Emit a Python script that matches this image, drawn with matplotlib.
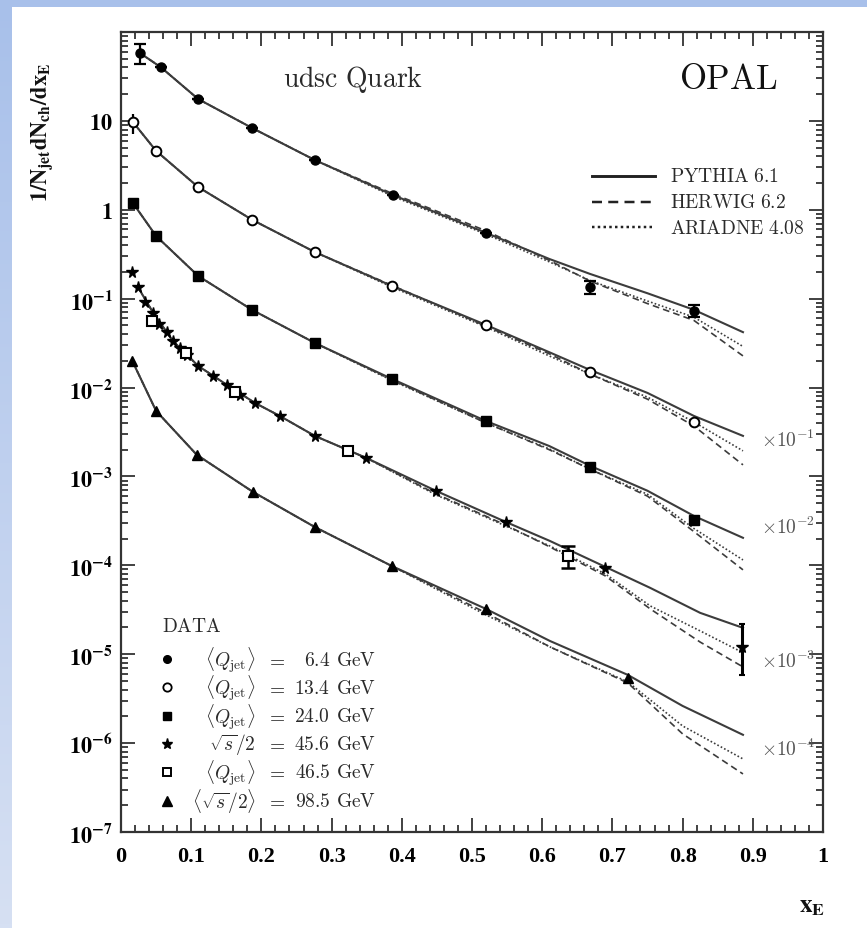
import numpy as np
import matplotlib
matplotlib.use("Agg")
import matplotlib.pyplot as plt
from matplotlib.ticker import MultipleLocator, LogLocator, NullFormatter, FixedLocator, FixedFormatter

# ---------------- data (values as drawn, offset factors already applied) ----------------
# <Q_jet> = 6.4 GeV  (x 1)
q64_x = [0.027, 0.057, 0.11, 0.187, 0.276, 0.387, 0.52, 0.668, 0.816]
q64_y = [58, 40, 17.6, 8.3, 3.63, 1.47, 0.55, 0.135, 0.073]
q64_lo = [43.7, 40, 17.6, 8.3, 3.63, 1.47, 0.55, 0.113, 0.062]
q64_hi = [73, 40, 17.6, 8.3, 3.63, 1.47, 0.55, 0.158, 0.085]

# <Q_jet> = 13.4 GeV  (x 1e-1)
q134_x = [0.017, 0.05, 0.11, 0.187, 0.276, 0.386, 0.52, 0.668, 0.816]
q134_y = [9.7, 4.6, 1.8, 0.77, 0.335, 0.139, 0.0506, 0.015, 0.0041]
q134_lo = [7.1, 4.6, 1.8, 0.77, 0.335, 0.139, 0.0506, 0.015, 0.0041]
q134_hi = [12.0, 4.6, 1.8, 0.77, 0.335, 0.139, 0.0506, 0.015, 0.0041]

# <Q_jet> = 24.0 GeV  (x 1e-2)
q240_x = [0.017, 0.05, 0.11, 0.187, 0.276, 0.386, 0.52, 0.668, 0.816]
q240_y = [1.19, 0.507, 0.18, 0.0746, 0.0318, 0.0125, 0.0042, 0.00128, 0.000324]

# sqrt(s)/2 = 45.6 GeV  (x 1e-3)
s456_x = [0.0157, 0.024, 0.034, 0.046, 0.054, 0.066, 0.074, 0.084, 0.094, 0.11, 0.131,
          0.151, 0.17, 0.191, 0.226, 0.276, 0.349, 0.449, 0.548, 0.69, 0.885]
s456_y = [0.2, 0.1355, 0.0918, 0.069, 0.052, 0.042, 0.0334, 0.0279, 0.0232, 0.0175, 0.0135,
          0.0107, 0.00826, 0.0067, 0.0048, 0.00286, 0.00162, 6.9e-4, 3.1e-4, 9.3e-5, 1.2e-5]
s456_last_lo, s456_last_hi = 5.9e-6, 2.2e-5

# <Q_jet> = 46.5 GeV  (x 1e-3)
q465_x = [0.044, 0.093, 0.162, 0.323, 0.637]
q465_y = [0.056, 0.0245, 0.0089, 0.00194, 1.28e-4]
q465_last_lo, q465_last_hi = 9.3e-5, 1.66e-4

# <sqrt(s)/2> = 98.5 GeV  (x 1e-4)
s985_x = [0.016, 0.05, 0.108, 0.188, 0.276, 0.386, 0.52, 0.722]
s985_y = [0.02, 0.00546, 0.00175, 6.7e-4, 2.7e-4, 9.8e-5, 3.2e-5, 5.4e-6]

# ---------------- Monte Carlo curves: shared low-x part + generator tails ----------------
mc = {
    "q64": dict(x=[0.027, 0.057, 0.11, 0.187, 0.276], y=[58, 40, 17.6, 8.3, 3.63],
                tx=[0.387, 0.52, 0.61, 0.668, 0.75, 0.816, 0.886],
                pythia=[1.47, 0.55, 0.28, 0.19, 0.115, 0.075, 0.042],
                herwig=[1.52, 0.58, 0.27, 0.158, 0.088, 0.057, 0.0227],
                ariadne=[1.42, 0.53, 0.26, 0.16, 0.094, 0.062, 0.029]),
    "q134": dict(x=[0.017, 0.05, 0.11, 0.187, 0.276], y=[9.7, 4.6, 1.8, 0.77, 0.335],
                 tx=[0.386, 0.52, 0.61, 0.668, 0.75, 0.816, 0.886],
                 pythia=[0.139, 0.0506, 0.025, 0.0158, 0.0087, 0.0048, 0.00286],
                 herwig=[0.141, 0.049, 0.024, 0.0142, 0.0074, 0.0037, 0.00135],
                 ariadne=[0.135, 0.048, 0.0227, 0.0142, 0.0078, 0.0041, 0.00194]),
    "q240": dict(x=[0.017, 0.05, 0.11, 0.187, 0.276], y=[1.19, 0.507, 0.18, 0.0746, 0.0318],
                 tx=[0.386, 0.52, 0.61, 0.668, 0.75, 0.816, 0.886],
                 pythia=[0.0125, 0.0042, 0.0022, 0.00132, 0.00069, 0.00036, 0.000204],
                 herwig=[0.0122, 0.0040, 0.0020, 0.00121, 0.00060, 0.00024, 0.000089],
                 ariadne=[0.0120, 0.0040, 0.00204, 0.00121, 0.00063, 0.00026, 0.000115]),
    "s456": dict(x=[0.024, 0.046, 0.074, 0.11, 0.151, 0.191, 0.226, 0.276, 0.349],
                 y=[0.1355, 0.069, 0.0334, 0.0175, 0.0107, 0.0067, 0.0048, 0.00286, 0.00162],
                 tx=[0.449, 0.548, 0.611, 0.69, 0.754, 0.825, 0.886],
                 pythia=[6.87e-4, 3.08e-4, 1.88e-4, 9.6e-5, 5.57e-5, 2.92e-5, 1.98e-5],
                 herwig=[6.35e-4, 2.84e-4, 1.61e-4, 7.6e-5, 3.23e-5, 1.37e-5, 7.2e-6],
                 ariadne=[6.19e-4, 2.77e-4, 1.65e-4, 8.0e-5, 3.49e-5, 1.83e-5, 1.04e-5]),
    "s985": dict(x=[0.016, 0.05, 0.108, 0.188, 0.276, 0.386],
                 y=[0.02, 0.00546, 0.00175, 6.7e-4, 2.7e-4, 9.8e-5],
                 tx=[0.52, 0.611, 0.722, 0.8, 0.886],
                 pythia=[3.23e-5, 1.41e-5, 5.85e-6, 2.62e-6, 1.24e-6],
                 herwig=[2.92e-5, 1.21e-5, 4.75e-6, 1.27e-6, 4.5e-7],
                 ariadne=[2.77e-5, 1.21e-5, 4.88e-6, 1.56e-6, 6.64e-7]),
}

gen_styles = {"pythia": dict(ls="-", lw=1.5), "herwig": dict(ls=(0, (4, 2.5)), lw=1.2),
              "ariadne": dict(ls=(0, (1, 1.3)), lw=1.2)}
gen_labels = [("pythia", "PYTHIA\\ 6.1"), ("herwig", "HERWIG\\ 6.2"), ("ariadne", "ARIADNE\\ 4.08")]

scale_labels = [(-2.578, "-1"), (-3.557, "-2"), (-5.064, "-3"), (-6.054, "-4")]

line_col = "#3c3c3c"
txt_col = "#2a2a2a"

# ---------------- figure ----------------
fig = plt.figure(figsize=(8.67, 9.29), dpi=100)
fig.patch.set_facecolor("white")

# light blue border strips (page decoration)
left = fig.add_axes([0, 0, 12 / 867, 1])
grad = np.linspace(0, 1, 256)[:, None]
c0 = np.array([168, 192, 234]) / 255
c1 = np.array([214, 224, 243]) / 255
left.imshow((c0 + (c1 - c0) * grad[:, :, None]) * np.ones((256, 1, 3)), aspect="auto")
left.axis("off")
top = fig.add_axes([0, 1 - 8 / 929, 1, 8 / 929])
top.imshow(np.ones((1, 2, 3)) * c0, aspect="auto")
top.axis("off")

ax = fig.add_axes([121 / 867, 1 - 833 / 929, 702 / 867, 800 / 929])
ax.set_yscale("log")
ax.set_xlim(0, 1)
ax.set_ylim(1e-7, 1e2)

for key, d in mc.items():
    for g, st in gen_styles.items():
        ax.plot(d["x"] + d["tx"], d["y"] + d[g], color=line_col, zorder=2, **st)

mk = dict(color="black", ls="none", zorder=4)
ax.plot(q64_x, q64_y, marker="o", ms=6.5, **mk)
ax.plot(q134_x, q134_y, marker="o", ms=7, mfc="white", mew=1.4, **mk)
ax.plot(q240_x, q240_y, marker="s", ms=6.5, **mk)
ax.plot(s456_x, s456_y, marker="*", ms=8.5, **mk)
ax.plot(q465_x, q465_y, marker="s", ms=7.5, mfc="white", mew=1.5, **mk)
ax.plot(s985_x, s985_y, marker="^", ms=7.5, **mk)

# error bars on the points where they are visible
eb = dict(fmt="none", ecolor="black", zorder=3)
ax.errorbar(q64_x, q64_y, yerr=[np.array(q64_y) - np.array(q64_lo), np.array(q64_hi) - np.array(q64_y)],
            elinewidth=1.6, capsize=4, capthick=1.6, **eb)
ax.errorbar(q134_x[:1], q134_y[:1], yerr=[[q134_y[0] - q134_lo[0]], [q134_hi[0] - q134_y[0]]],
            elinewidth=1.6, capsize=0, **eb)
ax.errorbar(s456_x[-1:], s456_y[-1:], yerr=[[s456_y[-1] - s456_last_lo], [s456_last_hi - s456_y[-1]]],
            elinewidth=2.2, capsize=2, capthick=1.5, **eb)
ax.errorbar(q465_x[-1:], q465_y[-1:], yerr=[[q465_y[-1] - q465_last_lo], [q465_last_hi - q465_y[-1]]],
            elinewidth=1.8, capsize=5, capthick=1.8, **eb)

# axes styling
for s in ax.spines.values():
    s.set_linewidth(1.6)
    s.set_color("#333333")
ax.xaxis.set_minor_locator(MultipleLocator(0.02))
ax.yaxis.set_minor_locator(LogLocator(base=10, subs=np.arange(2, 10), numticks=20))
ax.yaxis.set_minor_formatter(NullFormatter())
ax.tick_params(which="both", direction="in", top=True, right=True, color="#333333", width=1.3)
ax.tick_params(which="major", length=10)
ax.tick_params(which="minor", length=5)

xt = [0, 0.1, 0.2, 0.3, 0.4, 0.5, 0.6, 0.7, 0.8, 0.9, 1]
ax.xaxis.set_major_locator(FixedLocator(xt))
ax.xaxis.set_major_formatter(FixedFormatter(["0", "0.1", "0.2", "0.3", "0.4", "0.5", "0.6", "0.7", "0.8", "0.9", "1"]))
ax.tick_params(axis="x", which="major", pad=10, labelsize=16)
for lab in ax.get_xticklabels():
    lab.set_fontfamily("Liberation Serif")
    lab.set_fontweight("bold")

yt = [1e-7, 1e-6, 1e-5, 1e-4, 1e-3, 1e-2, 1e-1, 1, 10, 100]
ylabs = [r"$\mathbf{10^{-%d}}$" % k for k in range(7, 0, -1)] + [r"$\mathbf{1}$", r"$\mathbf{10}$", ""]
ax.yaxis.set_major_locator(FixedLocator(yt))
ax.yaxis.set_major_formatter(FixedFormatter(ylabs))
ax.tick_params(axis="y", which="major", pad=6, labelsize=16)
for lab in ax.get_yticklabels():
    lab.set_math_fontfamily("stix")

# titles
ax.text(0.33, 0.942, r"$\mathrm{udsc\ Quark}$", transform=ax.transAxes, ha="center", va="center",
        fontsize=20, color=txt_col, math_fontfamily="cm")
ax.text(0.865, 0.942, r"$\mathrm{OPAL}$", transform=ax.transAxes, ha="center", va="center",
        fontsize=25, color="#111111", math_fontfamily="cm")

# generator legend
for i, (g, lab) in enumerate(gen_labels):
    yy = 0.82 - i * 0.032
    ax.plot([0.671, 0.761], [yy, yy], transform=ax.transAxes, color="#222222",
            **{**gen_styles[g], "lw": gen_styles[g]["lw"] + 0.6})
    ax.text(0.782, yy, "$\\mathrm{%s}$" % lab, transform=ax.transAxes, ha="left", va="center",
            fontsize=14, color=txt_col, math_fontfamily="cm")

# data legend
ax.text(0.058, 0.2575, r"$\mathrm{DATA}$", transform=ax.transAxes, ha="left", va="center",
        fontsize=14, color=txt_col, math_fontfamily="cm")
rows = [
    (dict(marker="o", ms=5.5, color="black"), r"$\langle Q_{\rm jet}\rangle$", "6.4"),
    (dict(marker="o", ms=6, mfc="white", mew=1.3, color="black"), r"$\langle Q_{\rm jet}\rangle$", "13.4"),
    (dict(marker="s", ms=5.5, color="black"), r"$\langle Q_{\rm jet}\rangle$", "24.0"),
    (dict(marker="*", ms=8, color="black"), r"$\sqrt{s}/2$", "45.6"),
    (dict(marker="s", ms=6, mfc="white", mew=1.4, color="black"), r"$\langle Q_{\rm jet}\rangle$", "46.5"),
    (dict(marker="^", ms=7.5, color="black"), r"$\langle\sqrt{s}/2\rangle$", "98.5"),
]
row_y = [0.216, 0.181, 0.145, 0.11, 0.075, 0.039]
for (mstyle, expr, val), yy in zip(rows, row_y):
    ax.plot([0.0655], [yy], transform=ax.transAxes, ls="none", clip_on=False, **mstyle)
    kw = dict(transform=ax.transAxes, va="center", fontsize=14, color=txt_col, math_fontfamily="cm")
    ax.text(0.192, yy, expr, ha="right", **kw)
    ax.text(0.221, yy, r"$=$", ha="center", **kw)
    ax.text(0.298, yy, r"$%s$" % val, ha="right", **kw)
    ax.text(0.306, yy, r"$\mathrm{GeV}$", ha="left", **kw)

# offset factors next to the curve ends
for lv, e in scale_labels:
    ax.text(0.912, 10 ** lv, r"$\times10^{%s}$" % e, ha="left", va="center", fontsize=14,
            color="#555555", math_fontfamily="cm")

# axis titles
fig.text(42 / 867, 1 - 62 / 929, r"$\mathbf{1/N_{jet}dN_{ch}/dx_{E}}$", rotation=90, ha="center",
         va="top", fontsize=16, color="#111111", math_fontfamily="stix")
fig.text(812 / 867, 1 - 906 / 929, r"$\mathbf{x_{E}}$", ha="center", va="center", fontsize=18,
         color="#111111", math_fontfamily="stix")

fig.savefig("out.png", dpi=100)
